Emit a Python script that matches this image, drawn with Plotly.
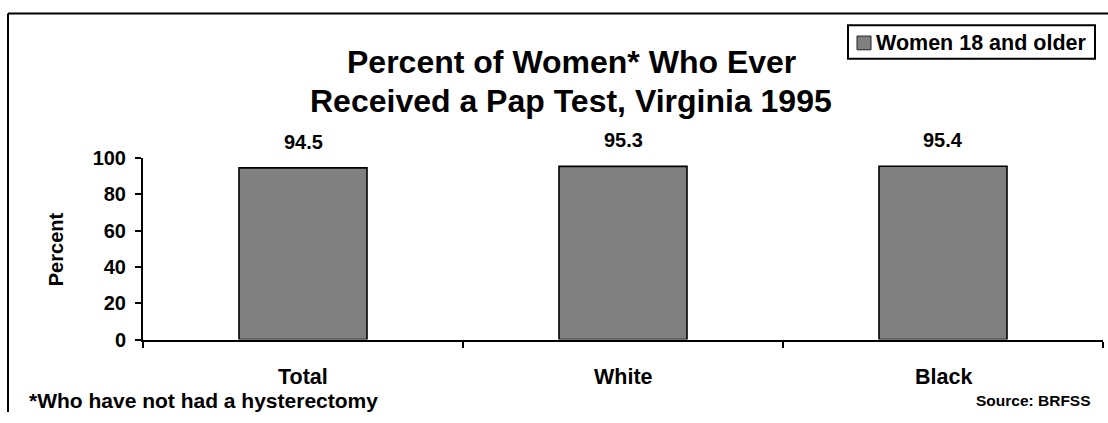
import plotly.graph_objects as go

categories = ["Total", "White", "Black"]
values = [94.5, 95.3, 95.4]
value_labels = ["94.5", "95.3", "95.4"]
series_name = "Women 18 and older"
y_ticks = [0, 20, 40, 60, 80, 100]

W, H = 1108, 423
FONT = "Liberation Sans, Arial, sans-serif"
BAR_COLOR = "#808080"

# the photographed page is vertically offset/scaled slightly; compensate
def px_x(x):
    return x / W

def Y(t):
    s = (t - 7.5) / 0.965
    return (H - s) / H

fig = go.Figure()
fig.add_trace(go.Bar(
    x=categories, y=values, name=series_name,
    marker=dict(color=BAR_COLOR, line=dict(color="black", width=1.6)),
    width=0.4, showlegend=False,
))

for c, v, t in zip(categories, values, value_labels):
    fig.add_annotation(x=c, y=v, xref="x", yref="y", text="<b>%s</b>" % t,
                       showarrow=False, yshift=26, yanchor="middle",
                       font=dict(size=20, color="black", family=FONT))

fig.update_layout(
    width=W, height=H,
    margin=dict(l=0, r=0, t=0, b=0),
    paper_bgcolor="white", plot_bgcolor="white",
    font=dict(family=FONT, color="black"),
    showlegend=False,
    xaxis=dict(domain=[px_x(143), px_x(1103)], showline=True, linecolor="black", linewidth=2,
               ticks="outside", tickson="boundaries", ticklen=6, tickwidth=2, tickcolor="black",
               showticklabels=False, showgrid=False, zeroline=False, fixedrange=True),
    yaxis=dict(domain=[Y(342), Y(157)], range=[0, 100], tickvals=y_ticks,
               ticktext=["<b>%d</b>" % v for v in y_ticks],
               showline=True, linecolor="black", linewidth=2,
               ticks="outside", ticklen=6, tickwidth=2, tickcolor="black",
               ticklabelstandoff=5,
               tickfont=dict(size=20, family=FONT, color="black"),
               showgrid=False, zeroline=False, fixedrange=True),
)

# category labels
for c in categories:
    fig.add_annotation(x=c, xref="x", y=Y(380), yref="paper", text="<b>%s</b>" % c,
                       showarrow=False, yanchor="middle",
                       font=dict(size=21.5, family=FONT, color="black"))

# title (two lines)
fig.add_annotation(x=px_x(571), y=Y(59), xref="paper", yref="paper",
                   text="<b>Percent of Women* Who Ever</b>",
                   showarrow=False, font=dict(size=32, family=FONT, color="black"),
                   xanchor="center", yanchor="middle")
fig.add_annotation(x=px_x(571), y=Y(99), xref="paper", yref="paper",
                   text="<b>Received a Pap Test, Virginia 1995</b>",
                   showarrow=False, font=dict(size=32, family=FONT, color="black"),
                   xanchor="center", yanchor="middle")

# legend box (drawn to match the reference's compact legend)
fig.add_shape(type="rect", xref="paper", yref="paper", x0=px_x(848), x1=px_x(1095),
              y0=Y(56), y1=Y(22), line=dict(color="black", width=2), fillcolor="white")
fig.add_shape(type="rect", xref="paper", yref="paper", x0=px_x(857), x1=px_x(871),
              y0=Y(47), y1=Y(33), line=dict(color="#222222", width=1), fillcolor=BAR_COLOR)
fig.add_annotation(x=px_x(874), y=Y(40), xref="paper", yref="paper",
                   text="<b>%s</b>" % series_name, xanchor="left", yanchor="middle",
                   showarrow=False, font=dict(size=21.5, family=FONT, color="black"))

# y title
fig.add_annotation(x=px_x(56), y=Y(250), xref="paper", yref="paper", text="<b>Percent</b>",
                   textangle=-90, showarrow=False, xanchor="center", yanchor="middle",
                   font=dict(size=20, family=FONT, color="black"))

# footnote and source
fig.add_annotation(x=px_x(27), y=Y(404), xref="paper", yref="paper",
                   text="<b>*Who have not had a hysterectomy</b>", xanchor="left", yanchor="middle",
                   showarrow=False, font=dict(size=21, family=FONT, color="black"))
fig.add_annotation(x=px_x(1093), y=Y(404), xref="paper", yref="paper",
                   text="<b>Source: BRFSS</b>", xanchor="right", yanchor="middle",
                   showarrow=False, font=dict(size=15.5, family=FONT, color="black"))

# outer frame (left and top edges)
fig.add_shape(type="line", xref="paper", yref="paper", x0=px_x(8), x1=px_x(8), y0=0, y1=Y(10),
              line=dict(color="black", width=2))
fig.add_shape(type="line", xref="paper", yref="paper", x0=px_x(8), x1=1, y0=Y(10), y1=Y(10),
              line=dict(color="black", width=2))

fig.write_html("out.html")
